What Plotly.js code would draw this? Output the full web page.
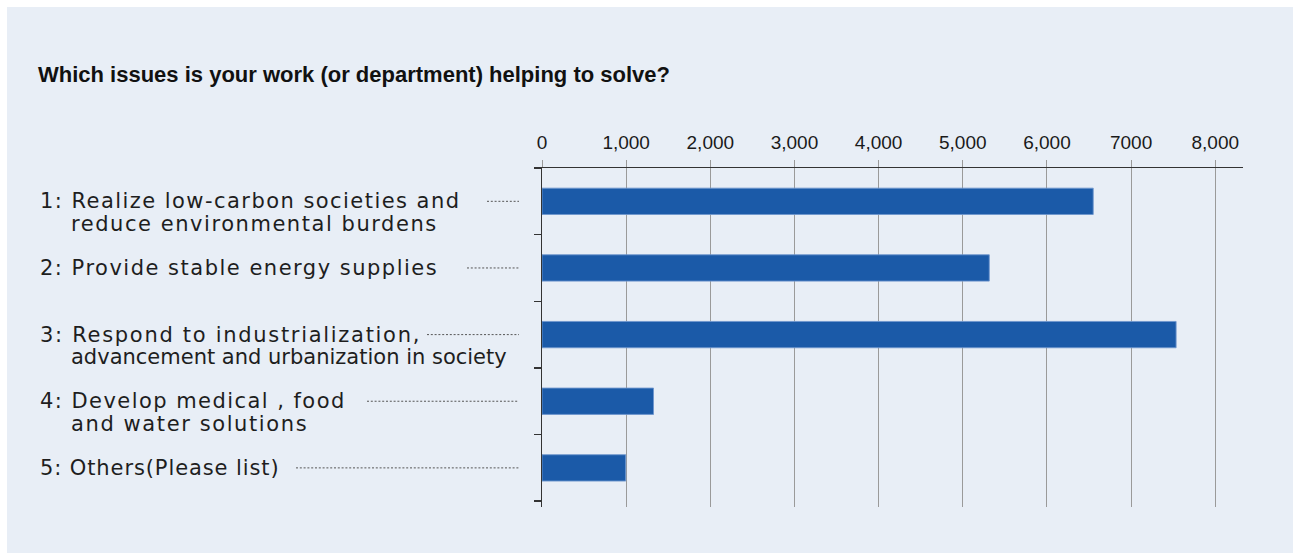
<!DOCTYPE html>
<html>
<head>
<meta charset="utf-8">
<script src="https://cdn.plot.ly/plotly-3.0.1.min.js"></script>
<style>
  html, body { margin: 0; padding: 0; background: #ffffff; }
  #chart { position: absolute; left: 7px; top: 7px; width: 1286px; height: 546px; }
</style>
</head>
<body>
<div id="chart"></div>
<script>
// ---- data ----
const categories = [
  "1: Realize low-carbon societies and<br>reduce environmental burdens",
  "2: Provide stable energy supplies",
  "3: Respond to industrialization,<br>advancement and urbanization in society",
  "4: Develop medical , food<br>and water solutions",
  "5: Others(Please list)"
];
const values = [6550, 5315, 7535, 1325, 995];
const tickValues = [0, 1000, 2000, 3000, 4000, 5000, 6000, 7000, 8000];
const tickLabels = ["0", "1,000", "2,000", "3,000", "4,000", "5,000", "6,000", "7000", "8,000"];
const titleText = "Which issues is your work (or department) helping to solve?";

// ---- style constants ----
const panel = "#e8eef6";
const barColor = "#1b5aa8";
const labelFont = { family: "DejaVu Sans", size: 21, color: "#1e1e1e" };
const labelTracking = [[1.45, 1.55], [1.5], [1.7, 0], [1.45, 1.6], [0.9]];
const leaderStart = [-55, -75, -115, -175, -246];   // px left of the value axis origin
const leaderEnd = -23;
const yRange = [4.587, -0.5];

const idx = categories.map((_, i) => i);
const yPaper = i => (yRange[0] - i) / (yRange[0] - yRange[1]);

const annotations = [];
const tracking = [];
const shapes = [];
categories.forEach((c, i) => {
  const lines = c.split("<br>");
  lines.forEach((ln, j) => {
    annotations.push({
      text: ln, xref: "paper", yref: "y", x: 0, y: i,
      xanchor: "left", yanchor: "middle", align: "left",
      xshift: j === 0 ? -504 : -473, yshift: -j * 22.5,
      showarrow: false, font: labelFont
    });
    tracking.push(labelTracking[i][j] || 0);
  });
  shapes.push({
    type: "line", xref: "paper", yref: "paper", xsizemode: "pixel", xanchor: 0,
    x0: leaderStart[i], x1: leaderEnd, y0: yPaper(i), y1: yPaper(i),
    layer: "above",
    line: { color: "#555", width: 1, dash: "2px,1.8px" }
  });
});

const trace = {
  type: "bar", orientation: "h",
  x: values, y: idx, width: 0.395,
  marker: { color: barColor, line: { color: "rgba(110,150,205,0.9)", width: 1 } },
  hoverinfo: "skip"
};

const layout = {
  width: 1286, height: 546,
  paper_bgcolor: panel, plot_bgcolor: panel,
  margin: { l: 535, r: 50, t: 161, b: 46 },
  showlegend: false,
  title: {
    text: titleText, xref: "container", yref: "container",
    x: 31 / 1286, xanchor: "left", y: 1 - 67 / 546, yanchor: "middle",
    font: { family: "Liberation Sans", size: 22, weight: "bold", color: "#111" }
  },
  xaxis: {
    side: "top", range: [0, 8330], autorange: false,
    tickvals: tickValues, ticktext: tickLabels,
    tickfont: { family: "Liberation Sans", size: 19, color: "#1a1a1a" },
    ticks: "outside", ticklen: 7, tickcolor: "#999", tickwidth: 1,
    ticklabelstandoff: 3,
    showgrid: true, gridcolor: "#9a9a9a", gridwidth: 1,
    showline: true, linecolor: "#333", linewidth: 1.5,
    zeroline: false, fixedrange: true
  },
  yaxis: {
    range: yRange, autorange: false,
    tickvals: [-0.5, 0.5, 1.5, 2.5, 3.5, 4.5],
    showticklabels: false,
    ticks: "outside", ticklen: 7, tickcolor: "#333", tickwidth: 1.5,
    showgrid: false, showline: true, linecolor: "#333", linewidth: 1.5,
    zeroline: false, fixedrange: true
  },
  annotations: annotations,
  shapes: shapes
};

Plotly.newPlot("chart", [trace], layout, { staticPlot: true, displayModeBar: false }).then(gd => {
  const texts = gd.querySelectorAll(".annotation-text");
  texts.forEach((t, k) => { t.style.letterSpacing = tracking[k] + "px"; });
});
</script>
</body>
</html>
